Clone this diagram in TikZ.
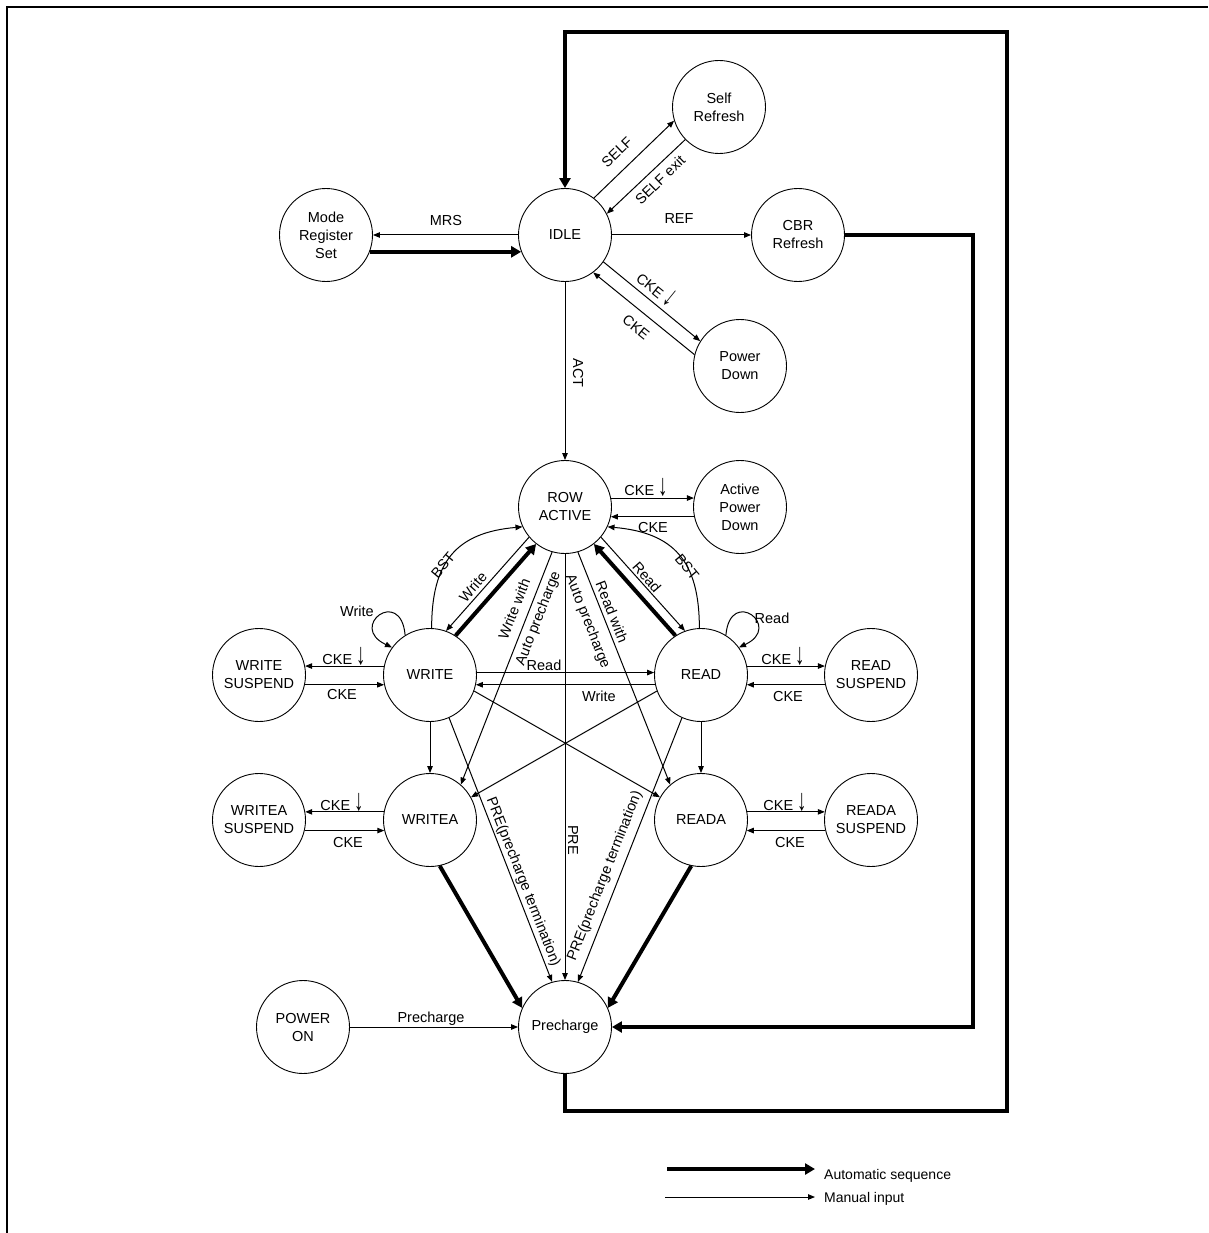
\documentclass[tikz,border=0pt]{standalone}
\usepackage{fontspec}
\setmainfont{Liberation Sans}
\usetikzlibrary{arrows.meta,calc}
\newcommand\dnarr{\scalebox{1.3}[2.1]{↓}}
\begin{document}
\begin{tikzpicture}[x=1pt,y=-1pt,
  st/.style={circle,draw,line width=0.9pt,minimum size=93pt,inner sep=0pt,align=center,font=\fontsize{14.5}{18}\selectfont},
  manarr/.style={line width=1pt,-{Triangle[length=7pt,width=5.5pt]}},
  autoarr/.style={line width=4pt,-{Triangle[length=10pt,width=11pt]}},
  lab/.style={font=\fontsize{14.5}{17}\selectfont,inner sep=0pt},
  labb/.style={lab,anchor=base},
  lab2/.style={lab,align=center,font=\fontsize{14.5}{25}\selectfont},
]
\useasboundingbox (0,0) rectangle (1208,1233);
% frame
\draw[line width=2pt] (7,1233) -- (7,7.5) -- (1208,7.5);

% states
\node[st] (mrs)  at (326,235) {Mode\\Register\\Set};
\node[st] (idle) at (565,235) {IDLE};
\node[st] (self) at (719,107) {Self\\Refresh};
\node[st] (cbr)  at (798,235) {CBR\\Refresh};
\node[st] (pd)   at (740,366) {Power\\Down};
\node[st] (row)  at (565,507) {ROW\\ACTIVE};
\node[st] (apd)  at (740,507) {Active\\Power\\Down};
\node[st] (ws)   at (259,675) {WRITE\\SUSPEND};
\node[st] (wr)   at (430,675) {WRITE};
\node[st] (rd)   at (701,675) {READ};
\node[st] (rs)   at (871,675) {READ\\SUSPEND};
\node[st] (was)  at (259,820) {WRITEA\\SUSPEND};
\node[st] (wa)   at (430,820) {WRITEA};
\node[st] (ra)   at (701,820) {READA};
\node[st] (ras)  at (871,820) {READA\\SUSPEND};
\node[st] (pon)  at (303,1027) {POWER\\ON};
\node[st] (pre)  at (565,1027) {Precharge};

% corner coordinates
\coordinate (c1) at (973,235);
\coordinate (c2) at (973,1027);
\coordinate (l1) at (565,1111);
\coordinate (l2) at (1007,1111);
\coordinate (l3) at (1007,32);
\coordinate (l4) at (565,32);

% top part
\draw[manarr] (idle.west) -- (mrs.east);
\draw[autoarr] (mrs.-21) -- (idle.201);
\draw[manarr] (idle.52) -- (self.197);
\draw[manarr] (self.224) -- (idle.27);
\draw[manarr] (idle.east) -- (cbr.west);
\draw[manarr] (idle.-35) -- (pd.148);
\draw[manarr] (pd.166) -- (idle.-53);
\draw[manarr] (idle.south) -- (row.north);

% row active
\draw[manarr] (row.11) -- (apd.169);
\draw[manarr] (apd.192) -- (row.-12);
\draw[manarr] (wr.88) to[out=90,in=185,looseness=1.25] (row.205);
\draw[manarr] (rd.92) to[out=90,in=-5,looseness=1.25] (row.-25);
\draw[manarr] (row.220) -- (wr.70);
\draw[autoarr] (wr.57) -- (row.232);
\draw[manarr] (row.-40) -- (rd.110);
\draw[autoarr] (rd.123) -- (row.-52);

% self loops
\draw[manarr] (wr.122) to[out=95,in=155,looseness=7] (wr.144);
\draw[manarr] (rd.58) to[out=85,in=25,looseness=7] (rd.36);

% write/read
\draw[manarr] (wr.3) -- (rd.177);
\draw[manarr] (rd.192) -- (wr.-12);
\draw[manarr] (wr.169) -- (ws.11);
\draw[manarr] (ws.-12) -- (wr.192);
\draw[manarr] (rd.11) -- (rs.169);
\draw[manarr] (rs.192) -- (rd.-12);
\draw[manarr] (wa.170) -- (was.10);
\draw[manarr] (was.-13) -- (wa.193);
\draw[manarr] (ra.10) -- (ras.170);
\draw[manarr] (ras.193) -- (ra.-13);
\draw[manarr] (wr.south) -- (wa.north);
\draw[manarr] (rd.south) -- (ra.north);

% diagonals
\draw[manarr] (row.254) -- (wa.49);
\draw[manarr] (row.-74) -- (ra.131);
\draw[manarr] (row.south) -- (pre.north);
\draw[manarr] (wr.-66) -- (pre.106);
\draw[manarr] (rd.246) -- (pre.74);
\draw[manarr] (wr.-20) -- (ra.151);
\draw[manarr] (rd.200) -- (wa.29);
\draw[autoarr] (wa.-78) -- (pre.156);
\draw[autoarr] (ra.-102) -- (pre.24);
\draw[manarr] (pon.east) -- (pre.west);

% automatic loops
\draw[autoarr] (cbr.east) -- (c1) -- (c2) -- (pre.east);
\draw[autoarr] (pre.south) -- (l1) -- (l2) -- (l3) -- (l4) -- (idle.north);

% labels
\node[lab] (tMRS) at (446,221) {MRS};
\node[lab,rotate=44] (tSELF) at (617,152) {SELF};
\node[lab,rotate=44] (tSELFx) at (660,180) {SELF exit};
\node[lab] (tREF) at (679,219) {REF};
\node[labb,rotate=-39] (tPDin) at (652,294) {CKE \dnarr};
\node[lab,rotate=-39] (tPDout) at (636,327) {CKE};
\node[lab,rotate=-90] (tACT) at (578,373) {ACT};
\node[labb] (tAPDin) at (646,495.5) {CKE \dnarr};
\node[lab] (tAPDout) at (653,528) {CKE};
\node[lab,rotate=50] (tBSTw) at (443,565) {BST};
\node[lab,rotate=49] (tWr) at (473,587) {Write};
\node[lab,rotate=-50] (tBSTr) at (687,567) {BST};
\node[lab,rotate=-49] (tRd) at (647,577) {Read};
\node[lab] (tWloop) at (357,611) {Write};
\node[lab] (tRloop) at (772,618) {Read};
\node[labb] (tWSin) at (344,664) {CKE \dnarr};
\node[lab] (tWSout) at (342,695) {CKE};
\node[labb] (tRSin) at (783,664) {CKE \dnarr};
\node[lab] (tRSout) at (788,697) {CKE};
\node[labb] (tWASin) at (342,810) {CKE \dnarr};
\node[lab] (tWASout) at (348,842) {CKE};
\node[labb] (tRASin) at (785,810) {CKE \dnarr};
\node[lab] (tRASout) at (790,842) {CKE};
\node[lab] (tWR2RD) at (544,665) {Read};
\node[lab] (tRD2WR) at (599,696) {Write};
\node[lab2,rotate=68.5] (tWAP) at (527,614) {Write with\\Auto precharge};
\node[lab2,rotate=-68.5] (tRAP) at (599,617) {Read with\\Auto precharge};
\node[lab,rotate=-90] (tPRE) at (573,840) {PRE};
\node[lab,rotate=-68.6] (tPREw) at (523,882) {PRE(precharge termination)};
\node[lab,rotate=68.5] (tPREr) at (605,876) {PRE(precharge termination)};
\node[lab] (tPON) at (431,1019) {Precharge};

% legend
\coordinate (g1) at (667,1169);
\coordinate (g2) at (815,1169);
\coordinate (g3) at (665,1197);
\coordinate (g4) at (815,1197);
\draw[autoarr] (g1) -- (g2);
\draw[manarr] (g3) -- (g4);
\node[lab,anchor=west,font=\fontsize{14}{16}\selectfont] (tAuto) at (824,1176) {Automatic sequence};
\node[lab,anchor=west,font=\fontsize{14}{16}\selectfont] (tMan) at (824,1199) {Manual input};
\end{tikzpicture}
\end{document}
